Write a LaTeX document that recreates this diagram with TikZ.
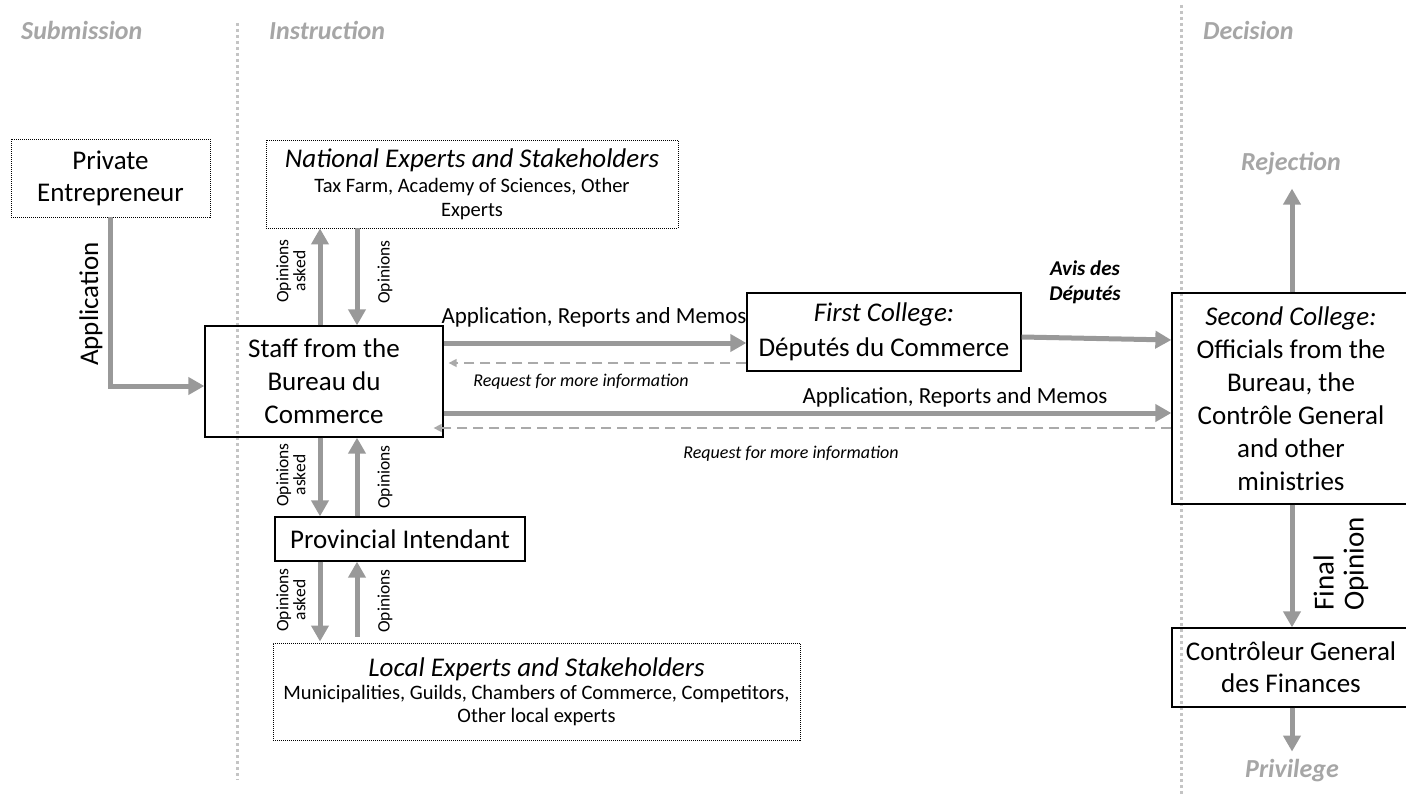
\documentclass[tikz,border=0pt]{standalone}
\usepackage{fontspec}
\setmainfont{Carlito}
\usetikzlibrary{arrows.meta,calc}
\definecolor{arr}{HTML}{999999}
\definecolor{dashc}{HTML}{AAAAAA}
\definecolor{hdrc}{HTML}{A6A6A6}
\definecolor{sepc}{HTML}{C4C4C4}
\begin{document}
\begin{tikzpicture}[x=1pt,y=-1pt,
  box/.style={draw=black,line width=1.3pt,inner sep=0pt,align=center,font=\fontsize{27}{33}\selectfont},
  dbox/.style={draw=black,line width=0.9pt,dash pattern=on 1pt off 1pt,inner sep=0pt,align=center},
  flow/.style={draw=arr,line width=5pt,-{Triangle[length=16pt,width=17pt]}},
  back/.style={draw=dashc,line width=1.5pt,dash pattern=on 10pt off 6pt,-{Triangle[length=8pt,width=8pt]}},
  hdr/.style={text=hdrc,font=\fontsize{26}{30}\selectfont\bfseries\itshape,inner sep=0pt},
  lbl/.style={font=\fontsize{23}{27}\selectfont,inner sep=0pt},
  req/.style={font=\fontsize{18}{21}\selectfont\itshape,inner sep=0pt},
  vlbl/.style={font=\fontsize{17.5}{17}\selectfont,inner sep=0pt,rotate=90,align=center},
  sep/.style={draw=sepc,line width=3pt,dash pattern=on 3pt off 3pt}
]
\useasboundingbox (0,0) rectangle (1406,797);

% column / row helper coordinates
\coordinate (c1) at (320,0);
\coordinate (c2) at (357,0);
\coordinate (c3) at (1292,0);
\coordinate (r0) at (0,337);
\coordinate (r0b) at (0,340);
\coordinate (r1) at (0,343);
\coordinate (r2) at (0,363);
\coordinate (r3) at (0,413);
\coordinate (r4) at (0,428);

% separators
\coordinate (s1a) at (237,23);
\coordinate (s1b) at (237,780);
\coordinate (s2a) at (1181,5);
\coordinate (s2b) at (1181,797);
\draw[sep] (s1a) -- (s1b);
\draw[sep] (s2a) -- (s2b);

% headers
\node[hdr,anchor=base west] (hsub) at (21,40) {Submission};
\node[hdr,anchor=base west] (hins) at (269,40) {Instruction};
\node[hdr,anchor=base west] (hdec) at (1203,40) {Decision};
\node[hdr,anchor=base] (rej) at (1291,171) {Rejection};
\node[hdr,anchor=base] (priv) at (1292,777) {Privilege};

% boxes
\node[dbox,font=\fontsize{27}{32}\selectfont,minimum width=199pt,minimum height=78pt] (private) at (110.5,178) {Private\\Entrepreneur};
\node[box,minimum width=238pt,minimum height=111pt] (staff) at (324,381.5) {Staff from the\\Bureau du\\Commerce};
\node[dbox,font=\fontsize{20.5}{24}\selectfont,minimum width=412pt,minimum height=88pt] (nat) at (472,184)
  {{\fontsize{27}{28}\selectfont\itshape National Experts and Stakeholders}\\[1pt]Tax Farm, Academy of Sciences, Other\\Experts};
\node[box,font=\fontsize{27}{35}\selectfont,minimum width=274pt,minimum height=78pt] (first) at (884,332) {\textit{First College:}\\Députés du Commerce};
\node[box,minimum width=238pt,minimum height=211pt] (second) at (1291,398.5)
  {\textit{Second College:}\\Officials from the\\Bureau, the\\Contrôle General\\and other\\ministries};
\node[box,font=\fontsize{27}{32}\selectfont,minimum width=238pt,minimum height=79pt] (contr) at (1291,667.5) {Contrôleur General\\des Finances};
\node[box,minimum width=250pt,minimum height=44pt] (prov) at (400,539) {Provincial Intendant};
\node[dbox,font=\fontsize{20.5}{23}\selectfont,minimum width=527pt,minimum height=97pt] (local) at (536.5,691.5)
  {{\fontsize{27}{28}\selectfont\itshape Local Experts and Stakeholders}\\[0pt]Municipalities, Guilds, Chambers of Commerce, Competitors,\\Other local experts};

% application
\draw[flow,line join=miter] (private.south) |- (staff.west |- 0,386);
\node[rotate=90,font=\fontsize{27}{30}\selectfont,inner sep=0pt] (lapp) at (91,304) {Application};

% national experts
\draw[flow] (staff.north -| c1) -- (nat.south -| c1);
\draw[flow] (nat.south -| c2) -- (staff.north -| c2);
\node[vlbl] (l1a) at (291,271) {Opinions\\asked};
\node[vlbl] (l1b) at (385,272) {Opinions};

% provincial intendant
\draw[flow] (staff.south -| c1) -- (prov.north -| c1);
\draw[flow] (prov.north -| c2) -- (staff.south -| c2);
\node[vlbl] (l2a) at (291,475) {Opinions\\asked};
\node[vlbl] (l2b) at (385,477) {Opinions};

% local experts
\draw[flow] (prov.south -| c1) -- ($(local.north -| c1)+(0,-1)$);
\coordinate (lup) at ($(local.north -| c2)+(0,-6)$);
\draw[flow] (lup) -- (prov.south -| c2);
\node[vlbl] (l3a) at (291,600) {Opinions\\asked};
\node[vlbl] (l3b) at (385,601) {Opinions};

% to first college
\draw[flow] (staff.east |- r1) -- (first.west |- r1);
\node[lbl,anchor=base] (la1) at (594,323) {Application, Reports and Memos};
\draw[back] (first.west |- r2) -- ($(staff.east |- r2)+(5,0)$);
\node[req,anchor=base] (rq1) at (581,386) {Request for more information};

% avis
\draw[flow] (first.east |- r0) -- (second.west |- r0b);
\node[font=\fontsize{21}{25}\selectfont\bfseries\itshape,inner sep=0pt,align=center,anchor=base] (avis) at (1085,300) {Avis des\\Députés};

% to second college
\draw[flow] (staff.east |- r3) -- (second.west |- r3);
\node[lbl,anchor=base] (la2) at (955,403) {Application, Reports and Memos};
\draw[back] (second.west |- r4) -- ($(staff.east |- r4)+(-10,0)$);
\node[req,anchor=base] (rq2) at (791,458) {Request for more information};

% decision
\draw[flow] (second.north -| c3) -- ($(rej.south)+(1,13)$);
\draw[flow] (second.south -| c3) -- (contr.north -| c3);
\node[rotate=90,font=\fontsize{29}{30}\selectfont,inner sep=0pt,align=left] (lfin) at (1341,564) {Final\\Opinion};
\draw[flow] (contr.south -| c3) -- ($(priv.north -| c3)+(0,-7)$);
\end{tikzpicture}
\end{document}
